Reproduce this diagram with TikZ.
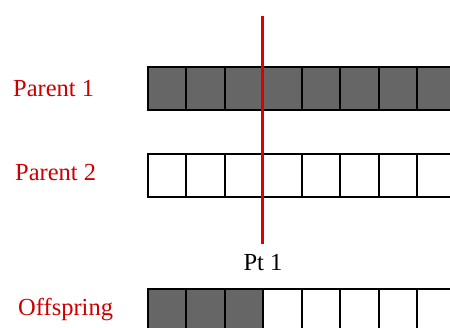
\documentclass[tikz,border=0pt]{standalone}
\usepackage{fontspec}
\setmainfont{Liberation Serif}
\definecolor{cutred}{RGB}{204,0,0}
\definecolor{linered}{RGB}{220,0,0}
\definecolor{genegray}{RGB}{102,102,102}
\tikzset{
  gene/.style={draw=black, line width=2pt, minimum width=38.5pt,
    minimum height=43pt, inner sep=0pt, anchor=north west},
  rowlabel/.style={text=cutred, font=\fontsize{24.5}{28}\selectfont, anchor=base west, inner sep=0pt},
}
\begin{document}
\begin{tikzpicture}[x=1pt,y=-1pt]
  \useasboundingbox (0,0) rectangle (450,327);
  \clip (0,0) rectangle (450,327);
  \def\w{38.5}
  \def\xs{146.7}

  % Parent 1 (all shaded)
  \foreach \i in {0,...,7}
    \node[gene, fill=genegray] (pa-\i) at ({\xs+\i*\w},65.7) {};
  % Parent 2 (all blank)
  \foreach \i in {0,...,7}
    \node[gene, fill=white] (pb-\i) at ({\xs+\i*\w},152.5) {};
  % Offspring: first three from parent 1, rest from parent 2
  \foreach \i in {0,...,7}{
    \ifnum\i<3 \def\col{genegray}\else \def\col{white}\fi
    \node[gene, fill=\col] (off-\i) at ({\xs+\i*\w},287.5) {};
  }

  % Labels
  \node[rowlabel] (lab1) at (13,96.7) {Parent 1};
  \node[rowlabel] (lab2) at (15,180) {Parent 2};
  \node[rowlabel] (labOff) at (18,315) {Offspring};

  % crossover point
  \coordinate (cuttop) at (262.7,16);
  \coordinate (cutbot) at (262.7,244);
  \draw[linered, line width=3pt] (cuttop) -- (cutbot);
  \node[font=\fontsize{24.5}{28}\selectfont, anchor=base, inner sep=0pt] (pt) at (263,270.7) {Pt 1};
\end{tikzpicture}
\end{document}
